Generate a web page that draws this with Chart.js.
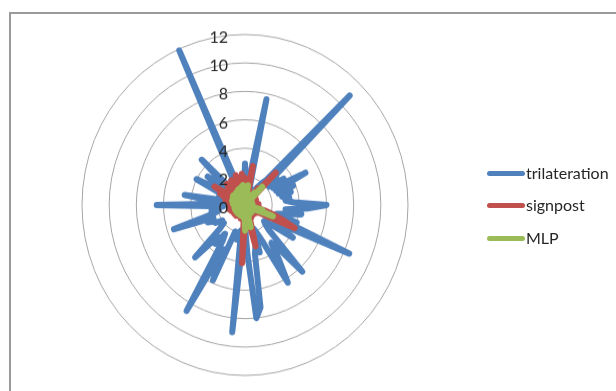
<!DOCTYPE html>
<html>
<head>
<meta charset="utf-8">
<script src="https://cdn.jsdelivr.net/npm/chart.js@4/dist/chart.umd.min.js"></script>
<style>
html, body { margin: 0; padding: 0; background: #fff; overflow: hidden; }
#frame { position: absolute; left: 9px; top: 12px; width: 607px; height: 379px; border-left: 2px solid #9a9a9a; border-top: 2px solid #9a9a9a; }
#wrap { position: absolute; left: 0; top: 0; width: 616px; height: 391px; }
/* the reference is a little taller than wide */
#myChart { transform: scaleY(1.046); transform-origin: 0 205.5px; }
.key { position: absolute; left: 487px; width: 38px; height: 5px; border-radius: 3px; }
.name { position: absolute; left: 526px; font: 16px Lato; color: #262626; line-height: 20px; }
</style>
</head>
<body>
<div id="frame"></div>
<div id="wrap"><canvas id="myChart" width="616" height="391"></canvas></div>
<div class="key" style="top:171px;background:#4f81bd"></div><div class="name" style="top:163px">trilateration</div>
<div class="key" style="top:203px;background:#c0504d"></div><div class="name" style="top:195px">signpost</div>
<div class="key" style="top:236px;background:#9bbb59"></div><div class="name" style="top:228px">MLP</div>
<script>
// one category every 3 degrees, clockwise from the top
const categories = [];
for (let i = 1; i <= 120; i++) categories.push(String(i));

const trilateration = [
  2.9, 1.2, 1.0, 1.6, 7.6, 1.5, 1.0, 1.2, 0.9, 1.0,
  1.2, 1.0, 1.5, 2.0, 2.4, 10.9, 2.4, 3.0, 2.2, 3.4,
  2.4, 5.0, 2.5, 3.8, 2.6, 3.5, 2.8, 3.3, 3.0, 3.6,
  6.0, 4.6, 3.0, 4.2, 3.0, 2.4, 4.0, 3.0, 8.4, 3.2,
  2.5, 4.2, 2.2, 1.8, 2.0, 2.5, 6.3, 4.0, 3.3, 4.6,
  6.3, 3.0, 2.2, 1.8, 3.5, 3.0, 3.5, 7.3, 8.0, 3.5,
  1.5, 2.0, 9.0, 1.8, 2.0, 2.5, 2.2, 2.0, 5.8, 3.5,
  8.6, 3.0, 2.5, 3.5, 3.0, 5.2, 2.5, 2.0, 2.2, 2.0,
  2.5, 2.5, 3.0, 2.5, 5.5, 2.5, 2.0, 2.5, 2.0, 1.6,
  6.5, 1.8, 2.2, 4.5, 1.5, 1.2, 2.0, 1.5, 1.8, 4.0,
  2.0, 1.5, 3.4, 2.0, 1.5, 4.5, 1.8, 1.5, 1.2, 1.5,
  2.0, 1.5, 11.9, 1.5, 1.2, 1.5, 1.2, 1.0, 1.5, 1.2
];
const signpost = [
  1.9, 0.7, 1.2, 0.8, 2.8, 0.9, 0.5, 0.8, 0.4, 0.9,
  0.5, 1.0, 0.6, 1.5, 0.9, 3.2, 0.8, 0.8, 0.5, 0.8,
  0.5, 0.9, 0.5, 0.8, 0.5, 0.8, 0.5, 0.9, 0.5, 1.0,
  0.6, 1.0, 0.5, 1.0, 0.7, 1.5, 2.2, 3.0, 4.0, 1.2,
  0.6, 1.0, 0.5, 0.8, 0.5, 0.9, 0.5, 0.9, 0.5, 0.9,
  0.5, 1.0, 0.5, 1.0, 1.5, 3.0, 0.9, 0.5, 1.0, 0.6,
  1.2, 4.1, 0.9, 0.5, 0.9, 0.5, 1.0, 0.5, 0.8, 0.5,
  0.9, 0.5, 0.9, 0.5, 1.0, 0.5, 0.8, 1.0, 0.5, 1.0,
  0.5, 1.0, 0.6, 1.1, 0.6, 1.2, 0.6, 1.1, 0.7, 1.2,
  0.6, 1.2, 0.8, 1.2, 0.8, 1.5, 0.9, 1.6, 2.0, 1.0,
  2.6, 1.0, 1.6, 1.0, 1.7, 1.0, 2.0, 1.0, 1.8, 1.0,
  2.0, 1.1, 1.9, 1.2, 2.2, 1.2, 2.0, 1.2, 2.2, 1.2
];
const mlp = [
  0.6, 0.9, 0.3, 1.4, 0.4, 0.8, 0.2, 0.7, 0.3, 0.8,
  0.2, 0.7, 0.3, 1.1, 0.5, 1.8, 0.4, 0.6, 0.2, 0.55,
  0.2, 0.55, 0.2, 0.55, 0.2, 0.55, 0.2, 0.55, 0.2, 0.55,
  0.2, 0.55, 0.2, 0.6, 0.3, 1.3, 0.8, 2.2, 0.6, 0.7,
  0.2, 0.7, 0.2, 0.6, 0.3, 0.7, 0.2, 0.7, 0.3, 0.7,
  0.3, 0.7, 0.3, 0.8, 0.3, 1.6, 0.4, 1.2, 0.5, 1.6,
  1.8, 0.5, 0.9, 0.3, 0.8, 0.2, 0.7, 0.2, 0.8, 0.2,
  0.7, 0.2, 0.7, 0.2, 0.8, 0.2, 0.7, 0.2, 0.8, 0.2,
  0.8, 0.2, 0.8, 0.2, 0.8, 0.2, 0.8, 0.3, 0.8, 0.3,
  0.8, 0.3, 0.9, 0.3, 0.9, 0.3, 1.0, 0.4, 1.0, 0.4,
  1.0, 0.4, 1.1, 0.5, 1.0, 0.5, 1.0, 0.5, 1.1, 0.5,
  1.1, 0.5, 1.2, 0.5, 1.2, 0.5, 1.3, 0.5, 1.4, 0.6
];
const tickLabels = ["0", "2", "4", "6", "8", "10", "12"];

// Excel puts the axis numbers left of the axis and over the lines
const tickTextPlugin = {
  id: "tickText",
  afterDatasetsDraw: function (chart) {
    const scale = chart.scales.r;
    const c = chart.ctx;
    c.save();
    c.font = "16px Lato";
    c.fillStyle = "#262626";
    c.textAlign = "right";
    c.textBaseline = "middle";
    scale.ticks.forEach(function (tick, i) {
      c.fillText(tickLabels[i], scale.xCenter - 17, scale.yCenter + 3 - scale.getDistanceFromCenterForValue(tick.value));
    });
    c.restore();
  },
};

const ctx = document.getElementById("myChart").getContext("2d");
const myChart = new Chart(ctx, {
  type: "radar",
  data: {
    labels: categories,
    datasets: [
      { label: "MLP", data: mlp, borderColor: "#9bbb59", order: 1 },
      { label: "signpost", data: signpost, borderColor: "#c0504d", order: 2 },
      { label: "trilateration", data: trilateration, borderColor: "#4f81bd", order: 3 },
    ].map(function (d) {
      d.borderWidth = 6;
      d.pointRadius = 0;
      d.fill = false;
      d.tension = 0;
      d.borderCapStyle = "round";
      d.borderJoinStyle = "round";
      return d;
    }),
  },
  plugins: [tickTextPlugin],
  options: {
    responsive: false,
    animation: false,
    layout: { padding: { left: 82, right: 208, top: 42, bottom: 23 } },
    scales: {
      r: {
        min: 0,
        max: 12,
        ticks: { stepSize: 2, display: false },
        grid: { circular: true, color: "#a6a6a6", lineWidth: 1 },
        angleLines: { display: false },
        pointLabels: { display: false },
      },
    },
    plugins: {
      legend: { display: false },
      tooltip: { enabled: false },
    },
  },
});
</script>
</body>
</html>
